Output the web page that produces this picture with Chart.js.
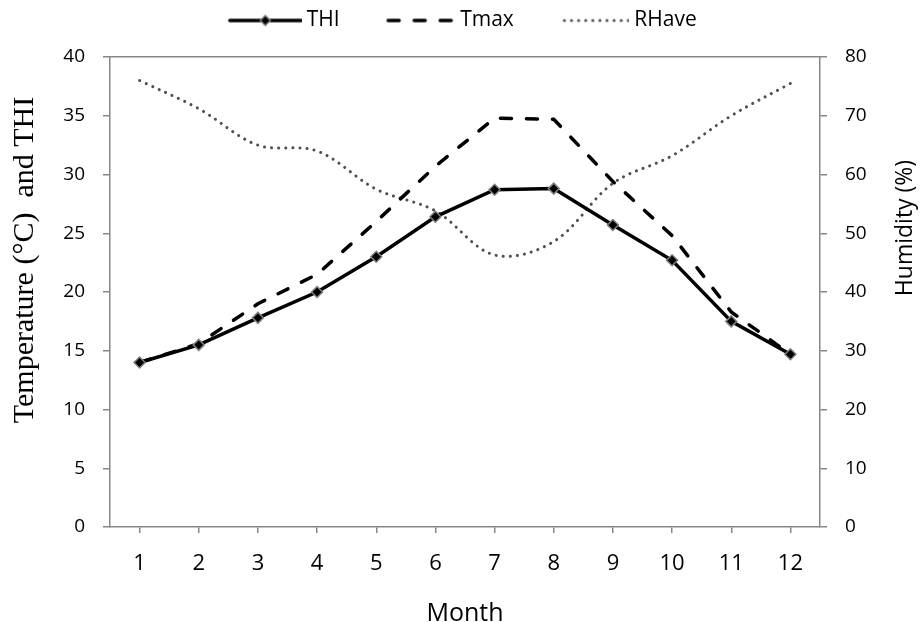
<!DOCTYPE html>
<html>
<head>
<meta charset="utf-8">
<title>THI, Tmax and RHave by month</title>
<script src="https://cdn.jsdelivr.net/npm/chart.js@4/dist/chart.umd.min.js"></script>
<style>
  html, body { margin: 0; padding: 0; background: #fff; }
  #wrap { width: 923px; height: 622px; }
</style>
</head>
<body>
<div id="wrap"><canvas id="myChart"></canvas></div>
<script>
'use strict';

// monthly means
const months = ['1', '2', '3', '4', '5', '6', '7', '8', '9', '10', '11', '12'];
const thi = [14.0, 15.5, 17.8, 20.0, 23.0, 26.4, 28.7, 28.8, 25.7, 22.7, 17.5, 14.7];
const tmax = [14.0, 15.6, 19.0, 21.5, 26.0, 30.7, 34.8, 34.7, 29.4, 24.8, 18.3, 14.7];
const rhAve = [76.0, 71.2, 65.0, 64.0, 57.5, 53.8, 46.3, 48.6, 58.5, 63.2, 70.0, 75.5];

// axis ranges: [min, max, step]
const tempAxis = [0, 40, 5];
const humAxis = [0, 80, 10];

const axisGrey = '#878787';
const sans = 'Open Sans';

// little line samples for the legend
function legendIcon(kind) {
  const c = document.createElement('canvas');
  c.width = 113;
  c.height = 20;
  const g = c.getContext('2d');
  const y = 10;
  g.lineCap = 'round';
  if (kind === 'thi') {
    g.strokeStyle = '#000';
    g.lineWidth = 3.5;
    g.beginPath(); g.moveTo(41, y); g.lineTo(112, y); g.stroke();
    const cx = 76.5, r = 5;
    g.beginPath();
    g.moveTo(cx, y - r); g.lineTo(cx + r, y); g.lineTo(cx, y + r); g.lineTo(cx - r, y);
    g.closePath();
    g.fillStyle = '#000';
    g.fill();
    g.lineWidth = 1.5;
    g.strokeStyle = '#7f7f7f';
    g.stroke();
  } else if (kind === 'tmax') {
    g.strokeStyle = '#000';
    g.lineWidth = 3.5;
    g.setLineDash([11, 15]);
    g.beginPath(); g.moveTo(46, y); g.lineTo(112, y); g.stroke();
  } else {
    g.strokeStyle = '#505050';
    g.lineWidth = 3;
    g.setLineDash([0.1, 7]);
    g.beginPath(); g.moveTo(48, y); g.lineTo(112, y); g.stroke();
  }
  return c;
}
const legendIcons = [legendIcon('thi'), legendIcon('tmax'), legendIcon('rh')];

// rotated y axis titles
const sideTitles = {
  id: 'sideTitles',
  afterDraw(chart) {
    const ctx = chart.ctx;
    ctx.save();
    ctx.fillStyle = '#000';
    ctx.textAlign = 'center';
    ctx.textBaseline = 'alphabetic';

    ctx.save();
    ctx.translate(33, 260);
    ctx.rotate(-Math.PI / 2);
    ctx.font = '30px "Liberation Serif"';
    ctx.fillText('Temperature (\u00B0C)  and THI', 0, 0);
    ctx.restore();

    ctx.save();
    ctx.translate(912, 228);
    ctx.rotate(-Math.PI / 2);
    ctx.font = '23px "' + sans + '"';
    ctx.fillText('Humidity (%)', 0, 0);
    ctx.restore();

    ctx.restore();
  }
};

const ctx = document.getElementById('myChart').getContext('2d');
window.chart = new Chart(ctx, {
  type: 'line',
  data: {
    labels: months,
    datasets: [{
      label: 'THI',
      data: thi,
      yAxisID: 'y',
      borderColor: '#000',
      borderWidth: 3.5,
      tension: 0,
      pointStyle: 'rectRot',
      pointRadius: 5.5,
      pointBackgroundColor: '#000',
      pointBorderColor: '#7f7f7f',
      pointBorderWidth: 1.5
    }, {
      label: 'Tmax',
      data: tmax,
      yAxisID: 'y',
      borderColor: '#000',
      borderWidth: 3.5,
      borderDash: [11, 15],
      borderCapStyle: 'round',
      tension: 0,
      pointRadius: 0
    }, {
      label: 'RHave',
      data: rhAve,
      yAxisID: 'y1',
      borderColor: '#505050',
      borderWidth: 3,
      borderDash: [0.1, 7],
      borderCapStyle: 'round',
      tension: 0.35,
      pointRadius: 0
    }]
  },
  options: {
    responsive: true,
    maintainAspectRatio: false,
    animation: false,
    // right padding pulls the legend left; the humidity axis absorbs it
    layout: { padding: { top: 2, right: 32, bottom: 0, left: 0 } },
    plugins: {
      tooltip: { enabled: false },
      legend: {
        position: 'top',
        labels: {
          usePointStyle: true,
          pointStyleWidth: 102,
          padding: 8,
          color: '#000',
          font: { family: sans, size: 21 },
          generateLabels: chart => chart.data.datasets.map((ds, i) => ({
            text: ds.label,
            pointStyle: legendIcons[i],
            datasetIndex: i,
            lineWidth: 0,
            hidden: false
          }))
        }
      }
    },
    scales: {
      x: {
        type: 'category',
        offset: true,
        grid: { drawOnChartArea: false, tickLength: 6, color: axisGrey, lineWidth: 1.5, offset: false },
        border: { color: axisGrey, width: 1.5 },
        ticks: { color: '#000', font: { family: sans, size: 22 }, padding: 18, maxRotation: 0 },
        title: { display: true, text: 'Month', color: '#000', font: { family: sans, size: 25 }, padding: { top: 0, bottom: -7 } },
        afterFit: s => { s.height = 95; }
      },
      x2: {
        type: 'category',
        position: 'top',
        grid: { display: false },
        ticks: { display: false },
        border: { display: true, color: axisGrey, width: 1.5 },
        afterFit: s => { s.height = 16; }
      },
      y: {
        position: 'left',
        min: tempAxis[0],
        max: tempAxis[1],
        grid: { drawOnChartArea: false, tickLength: 7, color: axisGrey, lineWidth: 1.5 },
        border: { color: axisGrey, width: 1.5 },
        ticks: { stepSize: tempAxis[2], color: '#000', font: { family: sans, size: 19 }, padding: 18 },
        afterFit: s => { s.width = 110; }
      },
      y1: {
        position: 'right',
        min: humAxis[0],
        max: humAxis[1],
        grid: { drawOnChartArea: false, tickLength: 7, color: axisGrey, lineWidth: 1.5 },
        border: { color: axisGrey, width: 1.5 },
        ticks: { stepSize: humAxis[2], color: '#000', font: { family: sans, size: 19 }, padding: 18 },
        afterFit: s => { s.width = 71; }
      }
    }
  },
  plugins: [sideTitles]
});
</script>
</body>
</html>
